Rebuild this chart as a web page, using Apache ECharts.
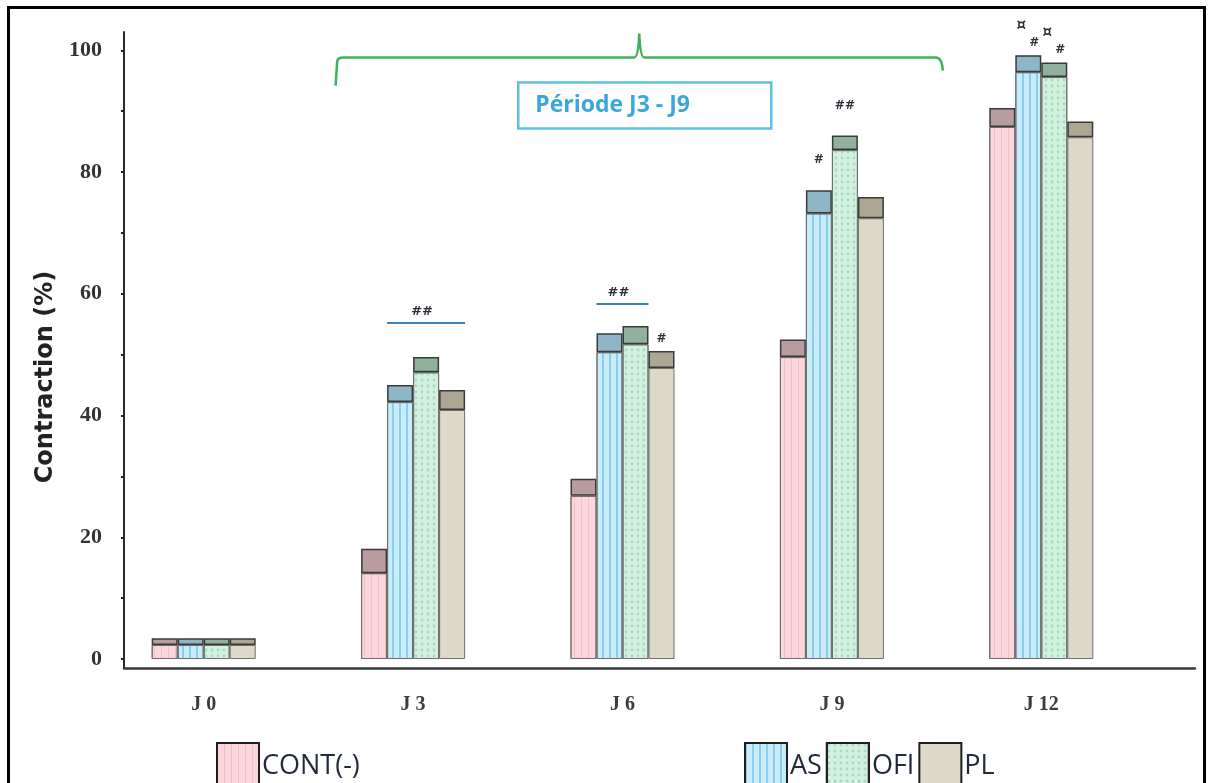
<!DOCTYPE html>
<html>
<head>
<meta charset="utf-8">
<script src="https://cdn.jsdelivr.net/npm/echarts@6/dist/echarts.min.js"></script>
<style>
html,body{margin:0;padding:0;background:#fff;overflow:hidden;}
#chart{width:1213px;height:783px;position:absolute;left:0;top:0;}
#frame{position:absolute;left:7px;top:6px;width:1199px;height:800px;border:3px solid #000;box-sizing:border-box;pointer-events:none;}
</style>
</head>
<body>
<div id="chart"></div>
<div id="frame"></div>
<script>
// ---------- data ----------
const categories = ['J0', 'J3', 'J6', 'J9', 'J12'];
const seriesNames = ['CONT(-)', 'AS', 'OFI', 'PL'];
// mean (light body) and error band (dark cap), in %
const contMean = [2.3, 14.1, 26.8, 49.6, 87.4];
const contErr  = [1.1, 4.0, 2.8, 2.9, 3.1];
const asMean   = [2.3, 42.2, 50.4, 73.2, 96.4];
const asErr    = [1.1, 2.8, 3.1, 3.8, 2.8];
const ofiMean  = [2.3, 47.1, 51.7, 83.6, 95.6];
const ofiErr   = [1.1, 2.5, 3.0, 2.4, 2.4];
const plMean   = [2.3, 40.9, 47.8, 72.4, 85.7];
const plErr    = [1.1, 3.3, 2.8, 3.5, 2.6];
// significance marks above bars
const contMarks = ['', '', '', '', ''];
const asMarks   = ['', '', '', '#', '¤#'];
const ofiMarks  = ['', '', '', '##', '¤#'];
const plMarks   = ['', '', '#', '', ''];
// significance bars: category, level (%), first bar, last bar, text
const sigCats  = ['J3', 'J6'];
const sigLevel = [55.2, 58.3];
const sigFrom  = [1, 1];
const sigTo    = [3, 2];
const sigText  = ['##', '##'];
// period brace
const braceFrom = 'J3';
const braceTo = 'J9';
const braceLevel = 98.8;
const braceText = 'Période J3 - J9';
// axis ticks
const yLabelValues = [0, 20, 40, 60, 80, 100];
const yTickValues = [0, 10, 20, 30, 40, 50, 60, 70, 80, 90, 100];
const yMax = 103;

// ---------- style ----------
const BAR_W = 26;
const GRID_TOP = 32, GRID_BOTTOM = 124;      // bars grid
const AXIS_DROP = 9;                         // axis lines sit a little below zero
const pxPerUnit = (783 - GRID_TOP - GRID_BOTTOM) / yMax;
const yMinB = -AXIS_DROP / pxPerUnit;

const styles = {
  'CONT(-)': { body: '#fbd6da', cap: '#b89c9e',
    decal: { symbol: 'rect', symbolSize: 1, dashArrayX: [1, 6], dashArrayY: [1, 0], color: 'rgba(225,150,160,0.35)' } },
  'AS': { body: '#c9ecfb', cap: '#8fb6c6',
    decal: { symbol: 'rect', symbolSize: 1, dashArrayX: [2, 5], dashArrayY: [1, 0], color: 'rgba(90,180,230,0.55)' } },
  'OFI': { body: '#d3f1df', cap: '#90b29d',
    decal: { symbol: 'circle', symbolSize: 0.7, dashArrayX: [4, 2], dashArrayY: [4, 2], color: 'rgba(120,190,150,0.45)' } },
  'PL': { body: '#ddd8c7', cap: '#aca693', decal: null }
};

function markLabel(text, i) {
  if (!text) return { show: false };
  const base = { fontFamily: 'DejaVu Sans', fontWeight: 'bold', fontSize: 12, color: '#2d2d3a' };
  if (text === '¤#') {
    return {
      show: true, position: 'top', distance: 4,
      formatter: '{c|¤}\n{h|#}',
      rich: {
        c: Object.assign({}, base, { fontSize: 15, padding: [0, 14, 0, 0], lineHeight: 17 }),
        h: Object.assign({}, base, { padding: [0, 0, 0, 12], lineHeight: 17 })
      }
    };
  }
  return Object.assign({ show: true, position: 'top', distance: i === 3 ? 24 : 6, formatter: text }, base);
}

const meanSets = [contMean, asMean, ofiMean, plMean];
const errSets = [contErr, asErr, ofiErr, plErr];
const markSets = [contMarks, asMarks, ofiMarks, plMarks];

const series = [];
seriesNames.forEach((name, k) => {
  const st = styles[name];
  series.push({
    name: name, type: 'bar', stack: 's' + k, barWidth: BAR_W, barGap: '0%',
    xAxisIndex: 0, yAxisIndex: 0,
    itemStyle: Object.assign({ color: st.body, borderColor: '#6e6e6e', borderWidth: 1 }, st.decal ? { decal: st.decal } : {}),
    data: meanSets[k]
  });
  series.push({
    name: name, type: 'bar', stack: 's' + k, barWidth: BAR_W, barGap: '0%',
    xAxisIndex: 0, yAxisIndex: 0,
    itemStyle: { color: st.cap, borderColor: '#3a3a3a', borderWidth: 1.5 },
    data: errSets[k].map((v, i) => ({ value: v, label: markLabel(markSets[k][i], i) }))
  });
});

// significance lines
series.push({
  type: 'custom', xAxisIndex: 0, yAxisIndex: 0, silent: true, z: 10,
  data: sigCats.map((c, i) => [categories.indexOf(c), sigLevel[i], sigFrom[i], sigTo[i]]),
  renderItem: function (params, api) {
    const p = api.coord([api.value(0), api.value(1)]);
    const x1 = p[0] + (api.value(2) - 2) * BAR_W;
    const x2 = p[0] + (api.value(3) - 1) * BAR_W;
    return {
      type: 'group', children: [
        { type: 'line', shape: { x1: x1, y1: p[1], x2: x2, y2: p[1] }, style: { stroke: '#3c82c0', lineWidth: 2 } },
        { type: 'text', style: { text: sigText[params.dataIndex], x: (x1 + x2) / 2 - 4, y: p[1] - 5, align: 'center', verticalAlign: 'bottom',
          font: 'bold 13px "DejaVu Sans"', fill: '#2d2d3a' } }
      ]
    };
  }
});

// period brace with label box
series.push({
  type: 'custom', xAxisIndex: 0, yAxisIndex: 0, silent: true, z: 10,
  data: [[categories.indexOf(braceFrom), braceLevel, categories.indexOf(braceTo)]],
  renderItem: function (params, api) {
    const band = api.size([1, 0])[0];
    const a = api.coord([api.value(0), api.value(1)]);
    const b = api.coord([api.value(2), api.value(1)]);
    const y = a[1];
    const xL = a[0] - 0.37 * band;
    const xR = b[0] + 0.53 * band;
    const xM = (xL + xR) / 2;
    const path = 'M' + xL + ',' + (y + 28) + ' L' + (xL + 1.5) + ',' + (y + 4) + ' Q' + (xL + 2) + ',' + y + ' ' + (xL + 8) + ',' + y +
      ' L' + (xM - 5) + ',' + y + ' Q' + (xM - 1) + ',' + y + ' ' + xM + ',' + (y - 24) +
      ' Q' + (xM + 1) + ',' + y + ' ' + (xM + 5) + ',' + y +
      ' L' + (xR - 7) + ',' + y + ' Q' + (xR - 1) + ',' + y + ' ' + (xR) + ',' + (y + 13);
    return {
      type: 'group', children: [
        { type: 'path', shape: { pathData: path }, style: { stroke: '#3cb35a', lineWidth: 2.5, fill: null } },
        { type: 'rect', shape: { x: xM - 121, y: y + 25, width: 253, height: 46 }, style: { stroke: '#5cc0ea', lineWidth: 2.5, fill: '#fff' } },
        { type: 'text', style: { text: braceText, x: xM - 104, y: y + 48, align: 'left', verticalAlign: 'middle',
          font: 'bold 23px "Liberation Sans Narrow", "Open Sans", sans-serif', fill: '#3aa7dc' } }
      ]
    };
  }
});

const legendText = { fontFamily: '"Liberation Sans Narrow", "Open Sans", sans-serif', fontSize: 27, color: '#1f2a3a', padding: [4, 0, 0, -2] };

const chart = echarts.init(document.getElementById('chart'), null, { renderer: 'canvas' });
chart.setOption({
  animation: false,
  backgroundColor: '#ffffff',
  grid: [
    { left: 99, right: 67, top: GRID_TOP, bottom: GRID_BOTTOM },
    { left: 124, right: 18, top: GRID_TOP, bottom: GRID_BOTTOM - AXIS_DROP }
  ],
  legend: [
    { data: ['CONT(-)'], left: 211, top: 737, icon: 'rect', itemWidth: 42, itemHeight: 46, itemGap: 6,
      itemStyle: { borderColor: '#1e1e1e', borderWidth: 2 }, textStyle: legendText },
    { data: ['AS', 'OFI', 'PL'], left: 739, top: 737, icon: 'rect', itemWidth: 42, itemHeight: 46, itemGap: 4,
      itemStyle: { borderColor: '#1e1e1e', borderWidth: 2 }, textStyle: legendText }
  ],
  xAxis: [
    { type: 'category', gridIndex: 0, data: categories,
      axisLine: { show: false }, axisTick: { show: false },
      axisLabel: { formatter: v => v.replace('J', 'J '), margin: 36, fontFamily: 'Liberation Serif', fontWeight: 'bold', fontSize: 20, color: '#3b3b44' } },
    { type: 'value', gridIndex: 1, min: 0, max: 1, show: true,
      axisLine: { show: true, onZero: false, lineStyle: { color: '#3a3a3a', width: 2.5 } },
      axisTick: { show: false }, axisLabel: { show: false }, splitLine: { show: false } }
  ],
  yAxis: [
    { type: 'value', gridIndex: 0, min: 0, max: yMax, show: false, splitLine: { show: false } },
    { type: 'value', gridIndex: 1, min: yMinB, max: yMax,
      name: 'Contraction (%)', nameLocation: 'middle', nameGap: 66,
      nameTextStyle: { fontFamily: 'DejaVu Sans', fontWeight: 'bold', fontSize: 24, color: '#222', padding: [0, 54, 0, 0] },
      axisLine: { show: true, lineStyle: { color: '#2a2a2a', width: 2 } },
      axisTick: { show: true, length: 3, customValues: yTickValues, lineStyle: { color: '#222', width: 2 } },
      axisLabel: { customValues: yLabelValues, margin: 22, fontFamily: 'Liberation Serif', fontWeight: 'bold', fontSize: 22, color: '#333' },
      splitLine: { show: false } }
  ],
  series: series
});
</script>
</body>
</html>
